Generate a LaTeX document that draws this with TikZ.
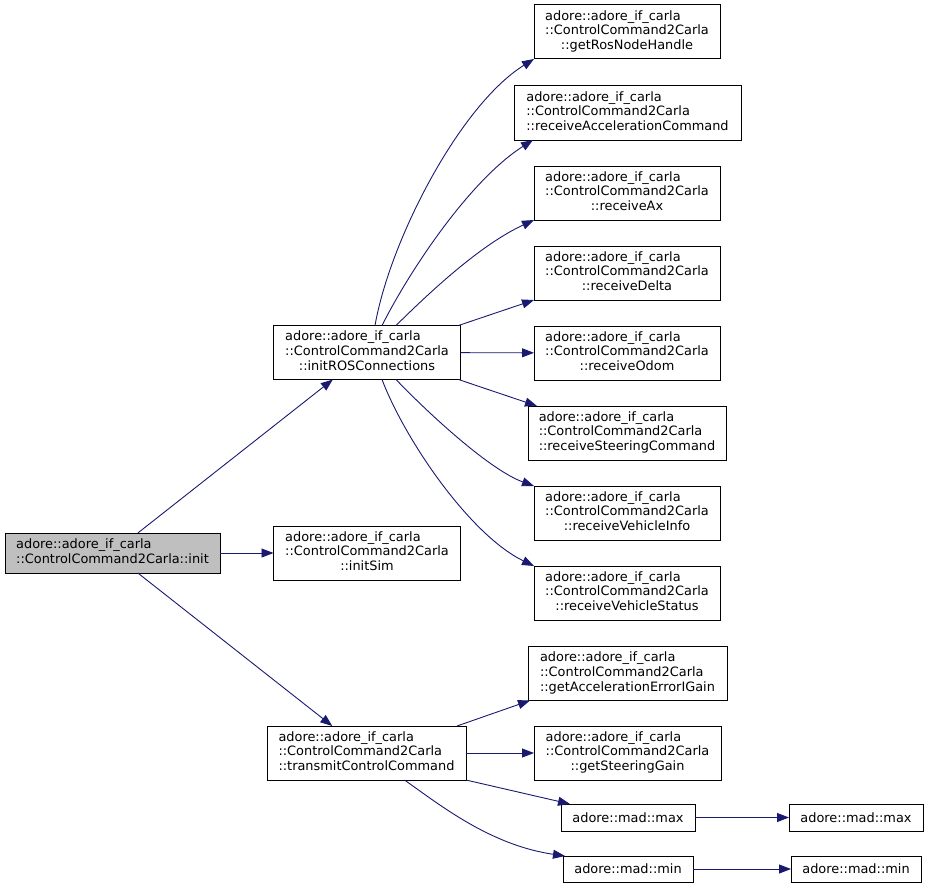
\documentclass[tikz,border=0pt]{standalone}
\usepackage{fontspec}
\setmainfont{DejaVu Sans}
\usetikzlibrary{arrows.meta}
\definecolor{edgeblue}{RGB}{25,25,112}
\definecolor{rootgray}{RGB}{191,191,191}
\newcommand{\tl}[3]{\begin{tabular}{@{}l@{}}#1\\#2\\\multicolumn{1}{@{}c@{}}{#3}\end{tabular}}
\newcommand{\pfx}{adore::adore\_if\_carla}
\newcommand{\cls}{::ControlCommand2Carla}
\begin{document}
\begin{tikzpicture}[x=1pt,y=-1pt,
  fn/.style={draw=black, line width=1pt, fill=white, inner sep=0pt, outer sep=0pt,
    font=\fontsize{12.9}{14.7}\selectfont, minimum height=54pt},
  rootfn/.style={fn, fill=rootgray, minimum height=40pt},
  small/.style={fn, minimum height=27pt},
  call/.style={draw=edgeblue, line width=0.9pt, -{Triangle[length=12pt,width=9pt,fill=edgeblue]}}]
\useasboundingbox (0,0) rectangle (928,888);

\node[rootfn, minimum width=215pt] (init) at (112.5,553) {\begin{tabular}{@{}l@{}}\pfx\\\multicolumn{1}{@{}c@{}}{\cls::init}\end{tabular}};

\node[fn, minimum width=187pt] (iros) at (367,352.5) {\tl{\pfx}{\cls}{::initROSConnections}};
\node[fn, minimum width=187pt] (isim) at (367,553) {\tl{\pfx}{\cls}{::initSim}};
\node[fn, minimum width=199pt] (tcc) at (366.5,753) {\tl{\pfx}{\cls}{::transmitControlCommand}};

\node[fn, minimum width=186pt] (grnh) at (627,32) {\tl{\pfx}{\cls}{::getRosNodeHandle}};
\node[fn, minimum width=227pt] (rac) at (627.5,113) {\tl{\pfx}{\cls}{::receiveAccelerationCommand}};
\node[fn, minimum width=186pt] (rax) at (627,193) {\tl{\pfx}{\cls}{::receiveAx}};
\node[fn, minimum width=186pt] (rdl) at (627,273) {\tl{\pfx}{\cls}{::receiveDelta}};
\node[fn, minimum width=186pt] (rod) at (627,353) {\tl{\pfx}{\cls}{::receiveOdom}};
\node[fn, minimum width=198pt] (rsc) at (627,433) {\tl{\pfx}{\cls}{::receiveSteeringCommand}};
\node[fn, minimum width=186pt] (rvi) at (627,513) {\tl{\pfx}{\cls}{::receiveVehicleInfo}};
\node[fn, minimum width=186pt] (rvs) at (627,593) {\tl{\pfx}{\cls}{::receiveVehicleStatus}};
\node[fn, minimum width=199pt] (gae) at (627.5,673.5) {\tl{\pfx}{\cls}{::getAccelerationErrorIGain}};
\node[fn, minimum width=187pt] (gsg) at (627.5,753) {\tl{\pfx}{\cls}{::getSteeringGain}};

\node[small, minimum width=134pt] (max1) at (628,817.5) {adore::mad::max};
\node[small, minimum width=134pt] (max2) at (856,817.5) {adore::mad::max};
\node[small, minimum width=130pt, minimum height=26pt] (min1) at (628,869) {adore::mad::min};
\node[small, minimum width=130pt, minimum height=26pt] (min2) at (856,869) {adore::mad::min};

% edges from init
\draw[call] (init) -- (iros);
\draw[call] (init) -- (isim);
\draw[call] (init) -- (tcc);

% edges from initROSConnections
\draw[call] ([xshift=8pt]iros.north) .. controls (390,240) and (460,105) .. (grnh.south west);
\draw[call] ([xshift=15pt]iros.north) .. controls (410,270) and (470,180) .. ([xshift=19pt]rac.south west);
\draw[call] ([xshift=29pt]iros.north) .. controls (430,292) and (480,245) .. (rax.south west);
\draw[call] ([xshift=-2pt]iros.north east) -- (rdl.south west);
\draw[call] (iros) -- (rod);
\draw[call] ([xshift=-2pt]iros.south east) -- ([xshift=9pt]rsc.north west);
\draw[call] ([xshift=29pt]iros.south) .. controls (430,415) and (490,470) .. (rvi.north west);
\draw[call] ([xshift=15pt]iros.south) .. controls (405,440) and (470,535) .. (rvs.north west);

% edges from transmitControlCommand
\draw[call] ([xshift=-9pt]tcc.north east) -- ([xshift=2pt]gae.south west);
\draw[call] (tcc) -- (gsg);
\draw[call] (tcc.south east) -- ([xshift=9pt]max1.north west);
\draw[call] ([xshift=38pt]tcc.south) .. controls (440,805) and (490,845) .. ([xshift=2pt]min1.north west);

% max / min
\draw[call] (max1) -- (max2);
\draw[call] (min1) -- (min2);
\end{tikzpicture}
\end{document}
